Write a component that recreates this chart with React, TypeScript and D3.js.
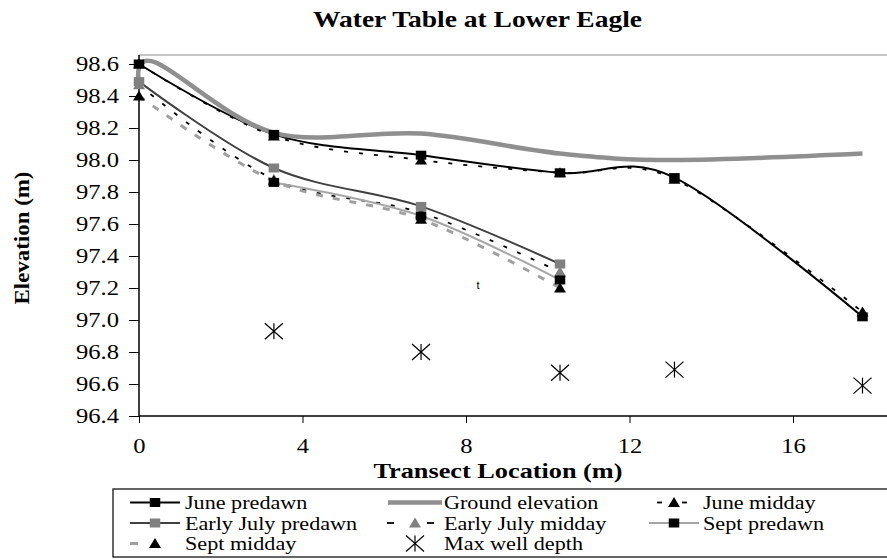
import React, { useEffect, useRef } from 'react';
import * as d3 from 'd3';

const W = 887;
const H = 560;

// ---- data ----
const xLocs = [0, 3.3, 6.9, 10.3, 13.1, 17.7];
const junePredawn = [98.6, 98.16, 98.03, 97.92, 97.89, 97.02];
const juneMidday = [98.6, 98.15, 98.0, 97.92, 97.88, 97.05];
const earlyJulyX = [0, 3.3, 6.9, 10.3];
const earlyJulyPredawn = [98.49, 97.95, 97.71, 97.35];
const earlyJulyMidday = [98.47, 97.88, 97.67, 97.3];
const septPredawnX = [3.3, 6.9, 10.3];
const septPredawn = [97.86, 97.65, 97.25];
const septMiddayX = [0, 3.3, 6.9, 10.3];
const septMidday = [98.4, 97.87, 97.63, 97.2];
const groundX = [0, 0.4, 3.3, 6.9, 10.3, 13.1, 17.7];
const groundElev = [98.49, 98.61, 98.17, 98.165, 98.04, 98.0, 98.04];
const wellX = [3.3, 6.9, 10.3, 13.1, 17.7];
const wellDepth = [96.93, 96.8, 96.67, 96.69, 96.59];
const xTickValues = [0, 4, 8, 12, 16];
const yTickValues = [96.4, 96.6, 96.8, 97.0, 97.2, 97.4, 97.6, 97.8, 98.0, 98.2, 98.4, 98.6];

type Marker = 'square' | 'triangle' | 'star' | null;
interface Series {
  name: string;
  xs: number[];
  ys: number[];
  stroke: string | null;
  width: number;
  dash: string | null;
  marker: Marker;
  mfill: string;
  col: number;
  row: number;
  legendDashes?: number[][];
  legendHalf?: number;
}

const series: Series[] = [
  { name: 'June predawn', xs: xLocs, ys: junePredawn, stroke: '#000', width: 2, dash: null, marker: 'square', mfill: '#000', col: 0, row: 0 },
  { name: 'Ground elevation', xs: groundX, ys: groundElev, stroke: '#8f8f8f', width: 4.5, dash: null, marker: null, mfill: '#000', col: 1, row: 0, legendHalf: 27 },
  { name: 'June midday', xs: xLocs, ys: juneMidday, stroke: '#000', width: 1.8, dash: '4,11', marker: 'triangle', mfill: '#000', col: 2, row: 0, legendDashes: [[-17, -12], [8, 13]] },
  { name: 'Early July predawn', xs: earlyJulyX, ys: earlyJulyPredawn, stroke: '#404040', width: 2, dash: null, marker: 'square', mfill: '#808080', col: 0, row: 1 },
  { name: 'Early July midday', xs: earlyJulyX, ys: earlyJulyMidday, stroke: '#000', width: 1.8, dash: '4,11', marker: 'triangle', mfill: '#808080', col: 1, row: 1, legendDashes: [[-28, -21], [12, 19]] },
  { name: 'Sept predawn', xs: septPredawnX, ys: septPredawn, stroke: '#a6a6a6', width: 2, dash: null, marker: 'square', mfill: '#000', col: 2, row: 1 },
  { name: 'Sept midday', xs: septMiddayX, ys: septMidday, stroke: '#a0a0a0', width: 3, dash: '7,10', marker: 'triangle', mfill: '#000', col: 0, row: 2, legendDashes: [[-25, -17]] },
  { name: 'Max well depth', xs: wellX, ys: wellDepth, stroke: null, width: 0, dash: null, marker: 'star', mfill: '#000', col: 1, row: 2 },
];

const K = 1.23; // horizontal stretch of the reference image's text
const SERIF = '"Liberation Serif", "Times New Roman", Times, serif';

function stretchText(node: SVGTextElement, anchor: string, target?: number) {
  const L = node.getComputedTextLength();
  const len = target ?? L * K;
  const x0 = parseFloat(node.getAttribute('x') || '0');
  node.setAttribute('textLength', String(len));
  node.setAttribute('lengthAdjust', 'spacingAndGlyphs');
  node.setAttribute('text-anchor', 'start');
  const shift = anchor === 'end' ? len : anchor === 'middle' ? len / 2 : 0;
  node.setAttribute('x', String(x0 - shift));
}

function drawMarker(g: any, type: Marker, cx: number, cy: number, fill: string) {
  if (type === 'square') {
    g.append('rect').attr('x', cx - 5.25).attr('y', cy - 4.5).attr('width', 10.5).attr('height', 9).attr('fill', fill);
  } else if (type === 'triangle') {
    g.append('path')
      .attr('d', `M${cx},${cy - 5.5}L${cx + 6},${cy + 4.5}L${cx - 6},${cy + 4.5}Z`)
      .attr('fill', fill);
  } else if (type === 'star') {
    const s = g.append('g').attr('stroke', '#000').attr('stroke-width', 1.2);
    s.append('line').attr('x1', cx - 9).attr('y1', cy - 8).attr('x2', cx + 9).attr('y2', cy + 8);
    s.append('line').attr('x1', cx - 9).attr('y1', cy + 8).attr('x2', cx + 9).attr('y2', cy - 8);
    s.append('line').attr('x1', cx).attr('y1', cy - 8).attr('x2', cx).attr('y2', cy + 8);
  }
}

export default function App() {
  const ref = useRef<SVGSVGElement>(null);

  useEffect(() => {
    const svg = d3.select(ref.current);
    svg.selectAll('*').remove();

    const x = d3.scaleLinear().domain([0, 20]).range([139, 956.5]);
    const y = d3.scaleLinear().domain([96.4, 98.6]).range([416, 64]);

    svg.append('rect').attr('width', W).attr('height', H).attr('fill', '#fff');

    // title
    const title = svg.append('text').attr('x', 477.5).attr('y', 27)
      .style('font-family', SERIF).attr('font-weight', 'bold').attr('font-size', 22.5)
      .text('Water Table at Lower Eagle');
    stretchText(title.node() as SVGTextElement, 'middle', 329);

    // plot top border
    svg.append('line').attr('x1', 139).attr('x2', W).attr('y1', 55).attr('y2', 55)
      .attr('stroke', '#b3b3b3').attr('stroke-width', 1.5);

    // y axis
    const gy = svg.append('g').attr('transform', 'translate(139,0)')
      .call(d3.axisLeft(y).tickValues(yTickValues).tickSize(10).tickPadding(10).tickFormat(d3.format('.1f')));
    gy.select('.domain').remove();
    gy.attr('font-size', 20).attr('font-family', null).style('font-family', SERIF);
    gy.selectAll('.tick line').attr('stroke', '#000').attr('stroke-width', 1);
    gy.selectAll('.tick text').attr('fill', '#000').style('font-family', SERIF).each(function () {
      stretchText(this as SVGTextElement, 'end');
    });

    // x axis
    const gx = svg.append('g').attr('transform', 'translate(0,416)')
      .call(d3.axisBottom(x).tickValues(xTickValues).tickSize(7).tickPadding(16).tickFormat(d3.format('d')));
    gx.select('.domain').remove();
    gx.attr('font-size', 20).attr('font-family', null).style('font-family', SERIF);
    gx.selectAll('.tick line').attr('stroke', '#000').attr('stroke-width', 1);
    gx.selectAll('.tick text').attr('fill', '#000').style('font-family', SERIF).each(function () {
      stretchText(this as SVGTextElement, 'middle');
    });

    svg.append('line').attr('x1', 139).attr('x2', 139).attr('y1', 55).attr('y2', 416)
      .attr('stroke', '#000').attr('stroke-width', 1.5);
    svg.append('line').attr('x1', 139).attr('x2', W).attr('y1', 416).attr('y2', 416)
      .attr('stroke', '#000').attr('stroke-width', 1.5);

    // axis titles
    const xt = svg.append('text').attr('x', 498).attr('y', 478)
      .style('font-family', SERIF).attr('font-weight', 'bold').attr('font-size', 21.5)
      .text('Transect Location (m)');
    stretchText(xt.node() as SVGTextElement, 'middle', 249);

    svg.append('text').attr('transform', 'translate(29,238) rotate(-90)')
      .attr('text-anchor', 'middle').style('font-family', SERIF).attr('font-weight', 'bold')
      .attr('font-size', 22).attr('textLength', 133).attr('lengthAdjust', 'spacingAndGlyphs')
      .text('Elevation (m)');

    // lines
    const line = d3.line<[number, number]>()
      .x(d => x(d[0])).y(d => y(d[1]))
      .curve(d3.curveCatmullRom.alpha(0));
    const lg = svg.append('g');
    series.forEach(s => {
      if (!s.stroke) return;
      const pts = s.xs.map((xv, i) => [xv, s.ys[i]] as [number, number]);
      lg.append('path').attr('d', line(pts) as string).attr('fill', 'none')
        .attr('stroke', s.stroke).attr('stroke-width', s.width)
        .attr('stroke-dasharray', s.dash ?? null).attr('stroke-linejoin', 'round');
    });
    // markers
    const mg = svg.append('g');
    series.forEach(s => {
      if (!s.marker) return;
      s.xs.forEach((xv, i) => drawMarker(mg, s.marker, x(xv), y(s.ys[i]), s.mfill));
    });

    // stray label
    svg.append('text').attr('x', 478).attr('y', 289).attr('text-anchor', 'middle')
      .style('font-family', '"Liberation Sans", Arial, sans-serif').attr('font-size', 11).attr('fill', '#000').text('t');

    // legend
    const leg = svg.append('g');
    leg.append('rect').attr('x', 113).attr('y', 489).attr('width', 800).attr('height', 68)
      .attr('fill', '#fff').attr('stroke', '#000').attr('stroke-width', 1.2);
    const colMarker = [155, 415, 674];
    const colText = [185, 444, 703];
    const rowBase = [509, 529.5, 550];
    series.forEach(s => {
      const cx = colMarker[s.col];
      const cy = rowBase[s.row] - 6.5;
      if (s.stroke) {
        if (s.legendDashes) {
          s.legendDashes.forEach(([a, b]) => {
            leg.append('line').attr('x1', cx + a).attr('x2', cx + b).attr('y1', cy).attr('y2', cy)
              .attr('stroke', s.stroke).attr('stroke-width', s.width);
          });
        } else {
          const h = s.legendHalf ?? 25;
          leg.append('line').attr('x1', cx - h).attr('x2', cx + h).attr('y1', cy).attr('y2', cy)
            .attr('stroke', s.stroke).attr('stroke-width', s.width);
        }
      }
      if (s.marker) drawMarker(leg, s.marker, cx, cy, s.mfill);
      const t = leg.append('text').attr('x', colText[s.col]).attr('y', rowBase[s.row])
        .style('font-family', SERIF).attr('font-size', 18).attr('fill', '#000').text(s.name);
      stretchText(t.node() as SVGTextElement, 'start');
    });
  }, []);

  return (
    <svg ref={ref} width={W} height={H}
      style={{ position: 'absolute', left: 0, top: 0, display: 'block', background: '#fff' }} />
  );
}
